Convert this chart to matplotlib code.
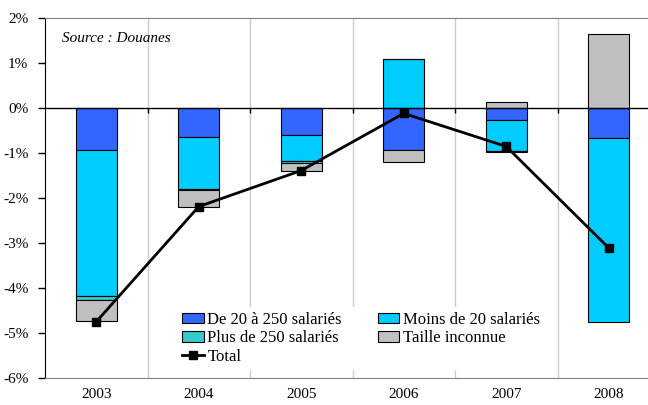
import matplotlib
matplotlib.use("Agg")
import matplotlib.pyplot as plt
import numpy as np
from matplotlib.ticker import FuncFormatter

years = ['2003', '2004', '2005', '2006', '2007', '2008']
de20_250 = [-0.94, -0.65, -0.61, -0.94, -0.27, -0.67]
moins20 = [-3.24, -1.15, -0.56, 1.09, -0.68, -4.09]
plus250 = [-0.08, -0.03, -0.045, 0.0, -0.035, 0.0]
inconnue = [-0.48, -0.36, -0.19, -0.27, 0.13, 1.65]
total = [-4.75, -2.19, -1.39, -0.12, -0.855, -3.11]

series = [
    ("De 20 à 250 salariés", de20_250, "#3366FF"),
    ("Moins de 20 salariés", moins20, "#00CCFF"),
    ("Plus de 250 salariés", plus250, "#33CCCC"),
    ("Taille inconnue", inconnue, "#C0C0C0"),
]

plt.rcParams['font.family'] = ['Liberation Serif', 'DejaVu Serif']

fig = plt.figure(figsize=(6.48, 4.05), dpi=100)
ax = fig.add_axes([45/648, 27/405, 615/648, 360/405])

x = np.arange(len(years))
pos = np.zeros(len(years))
neg = np.zeros(len(years))
handles = {}
for name, vals, col in series:
    v = np.array(vals)
    bottoms = np.where(v >= 0, pos, neg)
    b = ax.bar(x, v, width=0.4, bottom=bottoms, color=col, edgecolor='black',
               linewidth=0.8, zorder=3, label=name)
    handles[name] = b
    pos = pos + np.where(v >= 0, v, 0)
    neg = neg + np.where(v < 0, v, 0)

ln, = ax.plot(x, total, color='black', lw=2, marker='s', markersize=6,
              zorder=5, label='Total')

ax.set_xlim(-0.5, len(years) - 0.5)
ax.set_ylim(-6, 2)
ax.set_yticks(np.arange(-6, 3, 1))
ax.yaxis.set_major_formatter(FuncFormatter(lambda v, p: f"{int(round(v))}%"))
ax.set_xticks(x)
ax.set_xticklabels(years)
ax.tick_params(axis='x', length=0, pad=7, labelsize=11)
ax.tick_params(axis='y', length=5, direction='out', width=1, labelsize=11, pad=7)

bounds = np.arange(len(years) - 1) + 0.5
ax.set_xticks(bounds, minor=True)
ax.tick_params(axis='x', which='minor', length=0)
ax.grid(which='minor', axis='x', color='#CCCCCC', lw=1, zorder=0)
ax.axhline(0, color='black', lw=1, zorder=4)
ax.vlines(bounds, -0.1, 0, color='black', lw=1, zorder=4)

for s in ['top', 'right', 'bottom']:
    ax.spines[s].set_color('#808080')
ax.spines['left'].set_color('black')
ax.spines['right'].set_visible(False)

ax.text(0.028, 0.944, "Source : Douanes", transform=ax.transAxes,
        style='italic', fontsize=11, va='center', ha='left')

order = [handles["De 20 à 250 salariés"], handles["Plus de 250 salariés"], ln,
         handles["Moins de 20 salariés"], handles["Taille inconnue"]]
labels = ["De 20 à 250 salariés", "Plus de 250 salariés", "Total",
          "Moins de 20 salariés", "Taille inconnue"]
leg = fig.legend(order, labels, ncol=2, loc='upper left',
                 bbox_to_anchor=(177/648, 1 - 307/405), fontsize=12,
                 frameon=True, facecolor='white', edgecolor='none', framealpha=1,
                 fancybox=False, handlelength=1.3, handleheight=0.6,
                 handletextpad=0.22, columnspacing=2.15, labelspacing=0.15,
                 borderpad=0.3, borderaxespad=0)
leg.set_zorder(10)

fig.savefig("out.png", dpi=100)
